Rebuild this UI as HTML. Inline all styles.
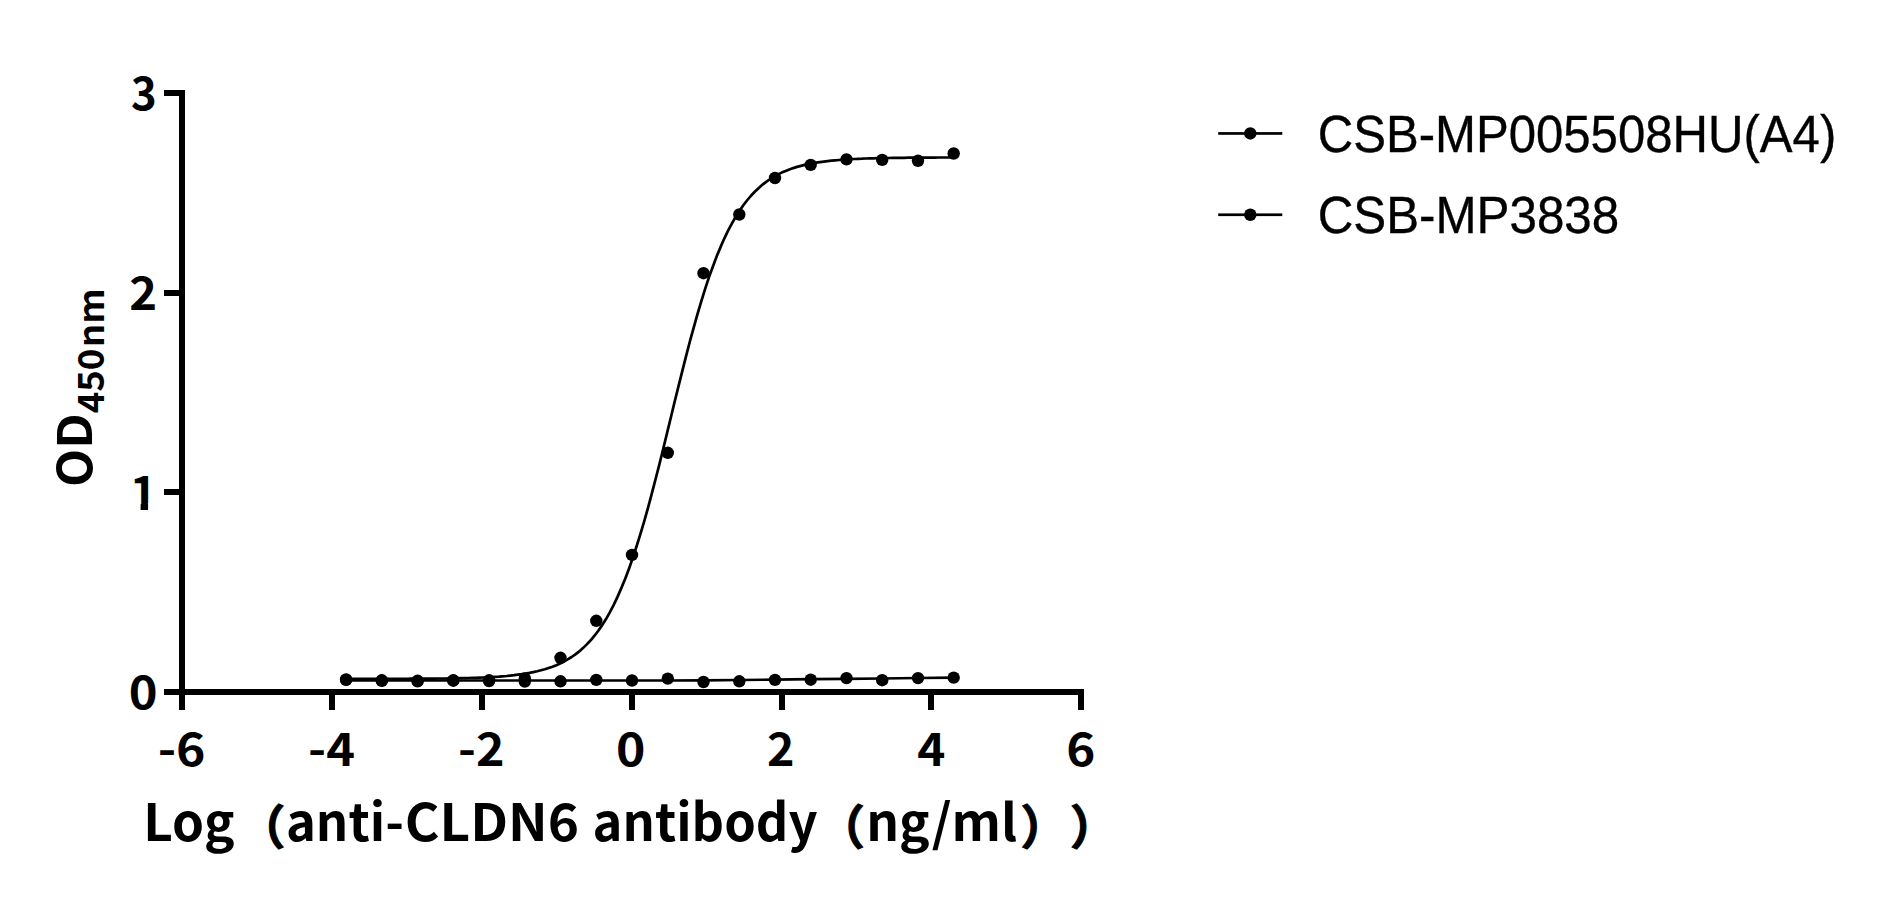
<!DOCTYPE html>
<html lang="en"><head><meta charset="utf-8"><title>Binding curve</title>
<style>
html,body{margin:0;padding:0;background:#fff;}
body{width:1878px;height:899px;overflow:hidden;font-family:"Liberation Sans",sans-serif;}
svg{display:block;}
</style></head>
<body>
<svg width="1878" height="899" viewBox="0 0 1878 899">
<rect width="1878" height="899" fill="#fff"/>
<!-- axes -->
<g fill="#000">
<rect x="179" y="90" width="6" height="620"/>
<rect x="164" y="689" width="920" height="6"/>
<rect x="179" y="692" width="6" height="18"/>
<rect x="329" y="692" width="6" height="18"/>
<rect x="479" y="692" width="6" height="18"/>
<rect x="629" y="692" width="6" height="18"/>
<rect x="779" y="692" width="6" height="18"/>
<rect x="928" y="692" width="6" height="18"/>
<rect x="1078" y="692" width="6" height="18"/>
<rect x="164" y="90" width="18" height="6"/>
<rect x="164" y="290" width="18" height="6"/>
<rect x="164" y="489" width="18" height="6"/>
<rect x="164" y="689" width="18" height="6"/>
</g>
<!-- curves -->
<g fill="none" stroke="#000" stroke-width="2.7" stroke-linejoin="round" stroke-linecap="round">
<path d="M346.1,678.9 L349.9,678.9 L353.7,678.9 L357.6,678.9 L361.4,678.9 L365.2,678.9 L369.0,678.8 L372.8,678.8 L376.7,678.8 L380.5,678.8 L384.3,678.8 L388.1,678.8 L391.9,678.8 L395.8,678.8 L399.6,678.8 L403.4,678.8 L407.2,678.8 L411.1,678.7 L414.9,678.7 L418.7,678.7 L422.5,678.7 L426.3,678.7 L430.2,678.6 L434.0,678.6 L437.8,678.5 L441.6,678.5 L445.4,678.5 L449.3,678.4 L453.1,678.3 L456.9,678.3 L460.7,678.2 L464.6,678.1 L468.4,678.0 L472.2,677.9 L476.0,677.8 L479.8,677.6 L483.7,677.5 L487.5,677.3 L491.3,677.1 L495.1,676.8 L499.0,676.6 L502.8,676.3 L506.6,676.0 L510.4,675.6 L514.2,675.2 L518.1,674.7 L521.9,674.2 L525.7,673.6 L529.5,672.9 L533.3,672.1 L537.2,671.3 L541.0,670.3 L544.8,669.3 L548.6,668.0 L552.5,666.7 L556.3,665.2 L560.1,663.5 L563.9,661.6 L567.7,659.4 L571.6,657.0 L575.4,654.4 L579.2,651.4 L583.0,648.1 L586.8,644.4 L590.7,640.3 L594.5,635.7 L598.3,630.7 L602.1,625.2 L606.0,619.1 L609.8,612.4 L613.6,605.1 L617.4,597.1 L621.2,588.4 L625.1,579.0 L628.9,568.9 L632.7,558.1 L636.5,546.5 L640.3,534.3 L644.2,521.3 L648.0,507.8 L651.8,493.6 L655.6,479.0 L659.5,463.9 L663.3,448.5 L667.1,432.9 L670.9,417.2 L674.7,401.5 L678.6,385.9 L682.4,370.6 L686.2,355.6 L690.0,341.0 L693.9,326.9 L697.7,313.4 L701.5,300.6 L705.3,288.4 L709.1,276.9 L713.0,266.2 L716.8,256.1 L720.6,246.9 L724.4,238.3 L728.2,230.4 L732.1,223.1 L735.9,216.5 L739.7,210.5 L743.5,205.0 L747.4,200.0 L751.2,195.5 L755.0,191.5 L758.8,187.9 L762.6,184.6 L766.5,181.6 L770.3,179.0 L774.1,176.6 L777.9,174.5 L781.7,172.6 L785.6,171.0 L789.4,169.5 L793.2,168.1 L797.0,166.9 L800.9,165.9 L804.7,164.9 L808.5,164.1 L812.3,163.3 L816.1,162.7 L820.0,162.1 L823.8,161.6 L827.6,161.1 L831.4,160.7 L835.2,160.3 L839.1,160.0 L842.9,159.7 L846.7,159.4 L850.5,159.2 L854.4,159.0 L858.2,158.8 L862.0,158.7 L865.8,158.5 L869.6,158.4 L873.5,158.3 L877.3,158.2 L881.1,158.1 L884.9,158.0 L888.8,158.0 L892.6,157.9 L896.4,157.9 L900.2,157.8 L904.0,157.8 L907.9,157.7 L911.7,157.7 L915.5,157.7 L919.3,157.6 L923.1,157.6 L927.0,157.6 L930.8,157.6 L934.6,157.6 L938.4,157.5 L942.3,157.5 L946.1,157.5 L949.9,157.5 L953.7,157.5"/>
<path d="M346.1,680.5 L667.0,680.5 L703.0,680.3 L740.0,680.0 L775.0,679.6 L810.0,679.2 L846.0,678.8 L882.0,678.5 L918.0,678.0 L953.7,677.6"/>
</g>
<!-- data points: CSB-MP005508HU(A4) -->
<g fill="#000">
<circle cx="346.1" cy="679.5" r="6.2"/>
<circle cx="381.8" cy="680.3" r="6.2"/>
<circle cx="417.6" cy="680.8" r="6.2"/>
<circle cx="453.3" cy="680.3" r="6.2"/>
<circle cx="489.1" cy="680.3" r="6.2"/>
<circle cx="524.8" cy="678.5" r="6.2"/>
<circle cx="560.5" cy="657.8" r="6.2"/>
<circle cx="596.3" cy="620.8" r="6.2"/>
<circle cx="632.0" cy="554.9" r="6.2"/>
<circle cx="667.8" cy="452.8" r="6.2"/>
<circle cx="703.5" cy="273.2" r="6.2"/>
<circle cx="739.3" cy="214.5" r="6.2"/>
<circle cx="775.0" cy="178.0" r="6.2"/>
<circle cx="810.7" cy="164.9" r="6.2"/>
<circle cx="846.5" cy="159.4" r="6.2"/>
<circle cx="882.2" cy="159.9" r="6.2"/>
<circle cx="918.0" cy="160.8" r="6.2"/>
<circle cx="953.7" cy="153.5" r="6.2"/>
</g>
<!-- data points: CSB-MP3838 -->
<g fill="#000">
<circle cx="346.1" cy="679.9" r="6.2"/>
<circle cx="381.8" cy="680.8" r="6.2"/>
<circle cx="417.6" cy="681.3" r="6.2"/>
<circle cx="453.3" cy="680.7" r="6.2"/>
<circle cx="489.1" cy="681.0" r="6.2"/>
<circle cx="524.8" cy="681.5" r="6.2"/>
<circle cx="560.5" cy="681.3" r="6.2"/>
<circle cx="596.3" cy="679.9" r="6.2"/>
<circle cx="632.0" cy="680.5" r="6.2"/>
<circle cx="667.8" cy="678.6" r="6.2"/>
<circle cx="703.5" cy="682.0" r="6.2"/>
<circle cx="739.3" cy="681.3" r="6.2"/>
<circle cx="775.0" cy="679.9" r="6.2"/>
<circle cx="810.7" cy="679.7" r="6.2"/>
<circle cx="846.5" cy="678.1" r="6.2"/>
<circle cx="882.2" cy="680.2" r="6.2"/>
<circle cx="918.0" cy="678.1" r="6.2"/>
<circle cx="953.7" cy="677.6" r="6.2"/>
</g>
<!-- tick labels -->
<g font-family="'Noto Sans CJK SC','Liberation Sans',sans-serif" font-weight="700" font-size="46" fill="#000">
<text x="157.68" y="765.5" textLength="47.88" lengthAdjust="spacingAndGlyphs">-6</text>
<text x="308.07" y="765.5" textLength="46.91" lengthAdjust="spacingAndGlyphs">-4</text>
<text x="458.14" y="765.5" textLength="46.56" lengthAdjust="spacingAndGlyphs">-2</text>
<text x="615.95" y="765.5" textLength="29.42" lengthAdjust="spacingAndGlyphs">0</text>
<text x="767.04" y="765.5" textLength="27.50" lengthAdjust="spacingAndGlyphs">2</text>
<text x="917.18" y="765.5" textLength="28.17" lengthAdjust="spacingAndGlyphs">4</text>
<text x="1066.28" y="765.5" textLength="29.08" lengthAdjust="spacingAndGlyphs">6</text>
<text x="131.00" y="110.4" textLength="25.71" lengthAdjust="spacingAndGlyphs">3</text>
<text x="129.35" y="310.2" textLength="27.85" lengthAdjust="spacingAndGlyphs">2</text>
<text x="128.85" y="709.4" textLength="28.83" lengthAdjust="spacingAndGlyphs">0</text>

<clipPath id="c1"><rect x="120" y="470" width="40" height="33"/><rect x="140.6" y="502" width="7.5" height="10"/></clipPath>
<text x="157.6" y="509.8" text-anchor="end" font-size="47.2" clip-path="url(#c1)">1</text>
</g>
<!-- axis titles -->
<g font-family="'Noto Sans CJK SC','Liberation Sans',sans-serif" font-weight="700" font-size="51" fill="#000">
<text x="143.17" y="840.5" textLength="91.57" lengthAdjust="spacingAndGlyphs">Log</text>
<text x="238.35" y="844.4" font-size="47" stroke="#000" stroke-width="1.1">（</text>
<text x="285.88" y="840.5" textLength="118.12" lengthAdjust="spacingAndGlyphs">anti-</text>
<text x="404.73" y="840.5" textLength="174.36" lengthAdjust="spacingAndGlyphs">CLDN6</text>
<text x="592.56" y="840.5" textLength="224.97" lengthAdjust="spacingAndGlyphs">antibody</text>
<text x="817.65" y="844.4" font-size="47" stroke="#000" stroke-width="1.1">（</text>
<text x="866.17" y="840.5" textLength="151.07" lengthAdjust="spacingAndGlyphs">ng/ml</text>
<text x="1020.57" y="844.4" font-size="47" stroke="#000" stroke-width="1.1">）</text>
<text x="1069.97" y="844.4" font-size="47" stroke="#000" stroke-width="1.1">）</text>
</g>
<g font-family="'Noto Sans CJK SC','Liberation Sans',sans-serif" font-weight="700" fill="#000">
<text transform="translate(92.2,486.88) rotate(-90)" font-size="46.8" textLength="73.56" lengthAdjust="spacingAndGlyphs">OD</text>
<text transform="translate(103.8,413.31) rotate(-90)" font-size="36" textLength="64.76" lengthAdjust="spacingAndGlyphs">450</text>
<text transform="translate(103.8,347.22) rotate(-90)" font-size="36" textLength="58.99" lengthAdjust="spacingAndGlyphs">nm</text>
</g>
<!-- legend -->
<g fill="#000">
<rect x="1218.2" y="132.1" width="64.1" height="2.7"/>
<rect x="1218.2" y="213.4" width="64.1" height="2.7"/>
<circle cx="1250.3" cy="133.45" r="6.2"/>
<circle cx="1250.3" cy="214.75" r="6.2"/>
</g>
<g font-family="'Liberation Sans',sans-serif" font-size="51.6" fill="#000" stroke="#000" stroke-width="0.35">
<text x="1317.68" y="151.7" textLength="518.57" lengthAdjust="spacingAndGlyphs">CSB-MP005508HU(A4)</text>
<text x="1317.69" y="233.2" textLength="301.55" lengthAdjust="spacingAndGlyphs">CSB-MP3838</text>
</g>
</svg>
</body></html>
